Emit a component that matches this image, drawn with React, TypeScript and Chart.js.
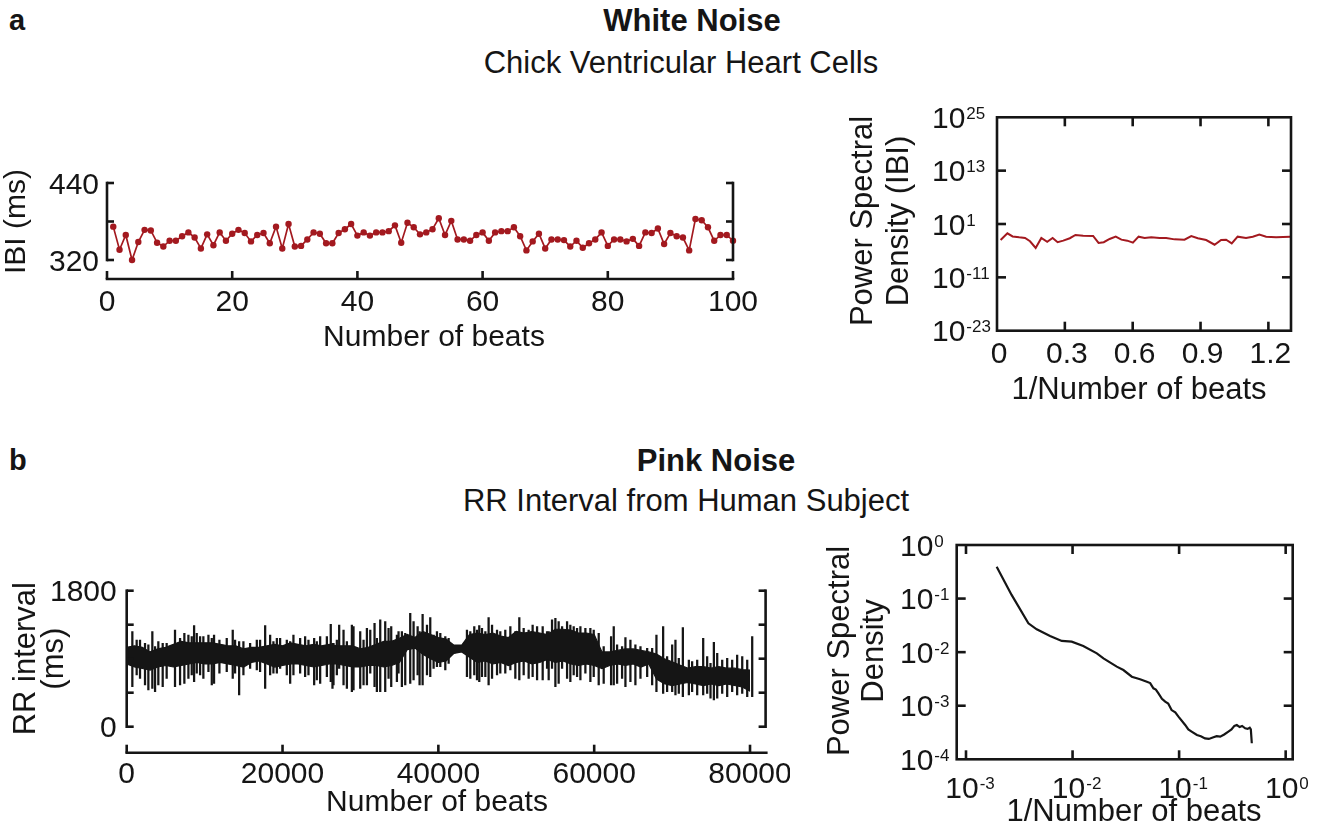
import React, { useEffect, useRef } from 'react';
import { Chart, registerables } from 'chart.js';

Chart.register(...registerables);

const FONT = '"Liberation Sans", Arial, Helvetica, sans-serif';
const INK = '#151515';
const RED = '#a3191f';

// ---------- Panel a (left): inter-beat intervals, beats 1..100 ----------
const ibiValues = [
  372, 336, 359, 320, 348, 367, 366, 347, 341, 350,
  350, 357, 363, 355, 338, 360, 343, 363, 350, 361,
  367, 362, 349, 359, 362, 346, 372, 338, 376, 341,
  342, 352, 363, 361, 346, 346, 362, 368, 376, 358,
  363, 358, 363, 363, 365, 374, 347, 378, 371, 360,
  363, 368, 385, 359, 381, 352, 352, 350, 359, 363,
  350, 363, 365, 365, 371, 357, 335, 349, 361, 338,
  352, 352, 351, 341, 350, 339, 346, 352, 363, 342,
  352, 352, 349, 353, 342, 363, 362, 369, 345, 362,
  357, 355, 335, 384, 382, 371, 350, 359, 359, 350,
];
const ibiYTicks = [320, 380, 440];
const ibiYLabelled = [320, 440];
const ibiXTicks = [0, 20, 40, 60, 80, 100];

// ---------- Panel a (right): PSD of IBI ----------
const whiteFreq = [
  0.016, 0.046, 0.069, 0.098, 0.124, 0.146, 0.171, 0.196, 0.222, 0.246,
  0.268, 0.293, 0.322, 0.347, 0.381, 0.425, 0.449, 0.472, 0.498, 0.525,
  0.55, 0.576, 0.601, 0.626, 0.653, 0.682, 0.719, 0.748, 0.785, 0.829,
  0.859, 0.888, 0.925, 0.962, 0.991, 1.013, 1.038, 1.064, 1.101, 1.131,
  1.16, 1.19, 1.234, 1.297,
];
const whitePsd = [
  2.5e-3, 7.9e-2, 1.6e-2, 1.0e-2, 7.1e-3, 1.3e-3, 4.0e-5, 7.1e-3, 1.0e-3, 7.1e-3,
  7.9e-4, 1.8e-3, 6.3e-3, 3.4e-2, 2.3e-2, 2.0e-2, 5.4e-4, 7.9e-4, 4.3e-3, 1.4e-2,
  3.0e-3, 1.8e-3, 6.3e-4, 1.4e-2, 7.1e-3, 1.0e-2, 7.1e-3, 7.1e-3, 3.5e-3, 3.0e-3,
  2.0e-2, 6.3e-3, 2.5e-3, 2.2e-4, 2.5e-3, 3.0e-3, 4.5e-4, 1.4e-2, 7.1e-3, 1.4e-2,
  4.0e-2, 1.4e-2, 1.0e-2, 1.4e-2,
];
const whiteXTicks = [0, 0.3, 0.6, 0.9, 1.2];
const whiteYExp = [25, 13, 1, -11, -23];

// ---------- Panel b (left): RR intervals — dense core per 1000 beats + individual excursions ----------
const RR_BIN = 1000;
const rrCoreHigh = [
  1050, 1070, 1050, 990, 1030, 1050, 1090, 1130, 1110, 1110,
  1110, 1110, 1090, 1070, 1070, 1030, 1050, 1050, 1070, 1090,
  1070, 1110, 1090, 1070, 1090, 1070, 1090, 1070, 1070, 1070,
  1030, 1050, 1090, 1130, 1130, 1170, 1220, 1180, 1260, 1220,
  1180, 1160, 1080, 1080, 1220, 1240, 1220, 1240, 1200, 1180,
  1260, 1240, 1260, 1240, 1220, 1290, 1290, 1280, 1240, 1240,
  1220, 990, 990, 1010, 1030, 1030, 1010, 990, 960, 900,
  860, 815, 775, 795, 795, 775, 795, 775, 775, 755,
  750,
];
const rrCoreLow = [
  830, 790, 770, 750, 790, 810, 790, 810, 830, 850,
  830, 830, 850, 830, 810, 790, 850, 870, 830, 790,
  810, 830, 830, 810, 790, 810, 830, 830, 810, 790,
  790, 810, 810, 790, 810, 850, 1020, 1040, 960, 900,
  850, 870, 970, 990, 920, 850, 870, 830, 850, 810,
  850, 870, 830, 850, 890, 850, 870, 830, 810, 830,
  810, 770, 810, 830, 810, 830, 790, 830, 630, 570,
  545, 565, 585, 565, 545, 565, 545, 565, 545, 525,
  470,
];
const rrSpikeBeat = [
  724, 1710, 3290, 4620, 6200, 7400, 8650, 9420, 11210, 11900,
  13610, 14430, 16700, 17770, 18410, 19270, 21400, 22900, 24060, 24830,
  26190, 26410, 27270, 28900, 29110, 29970, 30830, 31810, 32540, 33180,
  33950, 35320, 36390, 37340, 37980, 38960, 39820, 43670, 44610, 45250,
  46450, 48590, 50390, 52100, 53390, 55020, 55440, 56520, 57370, 58230,
  59510, 60580, 62170, 62510, 64010, 64650, 67990, 68850, 70430, 71380,
  72150, 73990, 75360, 75790, 77070, 78350, 80280,
  1280, 2350, 2780, 3640, 4060, 5130, 6850, 7920, 8350, 8990,
  9840, 10490, 10920, 12840, 13910, 14980, 15840, 17120, 18830, 19690,
  20550, 20980, 22260, 23330, 24400, 25690, 26970,
  26540, 27830, 28260, 30400, 31260, 32110, 33610, 34680, 34890, 35750,
  36820, 37590, 38540, 39390, 40250, 40890, 41320, 44100, 44960, 45600,
  46030, 46890, 47530, 47950, 49240, 49880, 50950, 51590, 52670, 53950,
  54160, 54590, 55880, 56940, 57800, 58870, 59940, 61220, 62940, 63580,
  65290, 65940, 66800, 67440, 69360, 70010, 70860, 72570, 73220, 74500,
  74930, 76430, 77710, 79000, 79640,
];
const rrSpikeLow = [
  530, 640, 508, 530, 530, 574, 596, 684, 574, 707,
  640, 420, 751, 508, 684, 707, 684, 662, 552, 574,
  596, 508, 773, 464, 486, 508, 552, 530, 464, 464,
  530, 530, 574, 684, 552, 662, 795, 662, 684, 596,
  552, 707, 618, 662, 618, 530, 574, 640, 684, 618,
  596, 552, 552, 552, 530, 596, 464, 442, 420, 398,
  420, 420, 354, 376, 398, 420, 398,
  684, 552, 486, 464, 552, 640, 552, 640, 684, 707,
  640, 729, 552, 729, 707, 684, 773, 729, 707, 773,
  684, 574, 707, 684, 618, 662, 684,
  552, 552, 508, 552, 707, 464, 640, 596, 707, 552,
  618, 552, 684, 773, 795, 751, 839, 640, 618, 662,
  662, 640, 684, 707, 751, 640, 684, 640, 618, 773,
  618, 773, 773, 596, 662, 707, 662, 574, 574, 640,
  552, 640, 662, 552, 464, 464, 442, 464, 420, 442,
  376, 442, 464, 442, 398,
];
const rrSpikeHigh = [
  1258, 1148, 1258, 1104, 1280, 1236, 1338, 1192, 1214, 1148,
  1280, 1126, 1148, 1338, 1214, 1170, 1214, 1192, 1170, 1192,
  1355, 1104, 1346, 1346, 1324, 1258, 1302, 1369, 1413, 1391,
  1324, 1258, 1501, 1324, 1488, 1444, 1258, 1280, 1324, 1338,
  1444, 1280, 1444, 1346, 1324, 1435, 1391, 1391, 1324, 1324,
  1302, 1236, 1192, 1324, 1179, 1148, 1214, 1324, 1148, 1311,
  883, 1170, 1117, 971, 905, 949, 1192,
  1148, 1104, 1082, 1060, 1126, 1104, 1170, 1214, 1192, 1236,
  1192, 1214, 1170, 1170, 1148, 1126, 1104, 1148, 1126, 1170,
  1148, 1126, 1170, 1148, 1126, 1192, 1148,
  1104, 1280, 1126, 1148, 1280, 1170, 1302, 1214, 1258, 1236,
  1391, 1258, 1346, 1214, 1236, 1192, 1170, 1258, 1280, 1302,
  1258, 1346, 1280, 1258, 1324, 1258, 1302, 1280, 1324, 1258,
  1258, 1413, 1324, 1346, 1302, 1302, 1280, 1060, 1082, 1060,
  1082, 1060, 1038, 1038, 927, 1082, 905, 861, 883, 927,
  839, 883, 883, 927, 883,
];
const rrYTicks = [0, 450, 900, 1350, 1800];
const rrYLabelled = [0, 1800];
const rrXTicks = [0, 20000, 40000, 60000, 80000];

// ---------- Panel b (right): PSD of RR ----------
const pinkFreq = [
  0.00194, 0.00268, 0.00385, 0.00461, 0.00615, 0.00792, 0.00982, 0.0126, 0.0169, 0.0195,
  0.026, 0.03, 0.036, 0.043, 0.0498, 0.0535, 0.0574, 0.0605, 0.064, 0.069,
  0.074, 0.079, 0.085, 0.092, 0.0986, 0.114, 0.122, 0.131, 0.147, 0.16,
  0.175, 0.19, 0.21, 0.225, 0.243, 0.265, 0.29, 0.31, 0.33, 0.348,
  0.37, 0.39, 0.417, 0.44, 0.46, 0.471, 0.481,
];
const pinkPsd = [
  0.394, 0.117, 0.0345, 0.0267, 0.02, 0.0162, 0.0157, 0.013, 0.0095, 0.00767,
  0.00536, 0.00464, 0.00348, 0.00311, 0.00281, 0.00265, 0.00211, 0.002, 0.0017, 0.00135,
  0.00119, 0.0011, 0.00083, 0.00075, 0.000625, 0.000437, 0.00036, 0.000328, 0.000284, 0.00027,
  0.000246, 0.00024, 0.000258, 0.00027, 0.000265, 0.00029, 0.000328, 0.00036, 0.00042, 0.000437,
  0.0004, 0.00042, 0.000379, 0.00037, 0.00039, 0.000363, 0.000199,
];
const pinkXExp = [-3, -2, -1, 0];
const pinkYExp = [0, -1, -2, -3, -4];

// ---------- drawing helpers ----------
const fontOf = (size: number, weight = 'normal') => `${weight} ${size}px ${FONT}`;

function seg(ctx: CanvasRenderingContext2D, x1: number, y1: number, x2: number, y2: number) {
  ctx.beginPath();
  ctx.moveTo(x1, y1);
  ctx.lineTo(x2, y2);
  ctx.stroke();
}

function label(ctx: CanvasRenderingContext2D, s: string, x: number, y: number, align: CanvasTextAlign, size = 30) {
  ctx.font = fontOf(size);
  ctx.fillStyle = INK;
  ctx.textAlign = align;
  ctx.textBaseline = 'alphabetic';
  ctx.fillText(s, x, y + size * 0.358);
}

function vlabel(ctx: CanvasRenderingContext2D, s: string, x: number, y: number, size = 31) {
  ctx.save();
  ctx.translate(x, y);
  ctx.rotate(-Math.PI / 2);
  ctx.font = fontOf(size);
  ctx.fillStyle = INK;
  ctx.textAlign = 'center';
  ctx.textBaseline = 'middle';
  ctx.fillText(s, 0, 0);
  ctx.restore();
}

function powLabel(ctx: CanvasRenderingContext2D, exp: number, x: number, y: number, anchor: 'left' | 'center') {
  const size = 30;
  const esize = 17;
  ctx.font = fontOf(size);
  ctx.fillStyle = INK;
  ctx.textAlign = 'left';
  ctx.textBaseline = 'alphabetic';
  const wb = ctx.measureText('10').width;
  const x0 = anchor === 'left' ? x : x - wb / 2;
  ctx.fillText('10', x0, y + size * 0.358);
  ctx.font = fontOf(esize);
  ctx.fillText(exp < 0 ? '-' + Math.abs(exp) : String(exp), x0 + wb + 1, y + 1.5);
}

const LW = 2.6;

// ---------- axis plugins ----------
const ibiAxes = {
  id: 'ibiAxes',
  afterDraw(chart: any) {
    const ctx: CanvasRenderingContext2D = chart.ctx;
    const x = chart.scales.x;
    const y = chart.scales.y;
    const xl = x.getPixelForValue(0);
    const xr = x.getPixelForValue(100);
    const yb = y.getPixelForValue(320);
    const yt = y.getPixelForValue(440);
    ctx.save();
    ctx.strokeStyle = INK;
    ctx.lineWidth = LW;
    seg(ctx, xl, yt - LW / 2, xl, yb + LW / 2);
    seg(ctx, xr, yt - LW / 2, xr, yb + LW / 2);
    ibiYTicks.forEach((v) => {
      const py = y.getPixelForValue(v);
      seg(ctx, xl, py, xl + 7, py);
      seg(ctx, xr, py, xr - 7, py);
    });
    const ya = yb + 19;
    seg(ctx, xl - LW / 2, ya, xr + LW / 2, ya);
    ibiXTicks.forEach((v) => {
      const px = x.getPixelForValue(v);
      seg(ctx, px, ya, px, ya - 8);
    });
    ibiYLabelled.forEach((v) => label(ctx, String(v), xl - 8, y.getPixelForValue(v), 'right'));
    ibiXTicks.forEach((v) => label(ctx, String(v), x.getPixelForValue(v), ya + 21, 'center'));
    label(ctx, 'Number of beats', (xl + xr) / 2 + 14, ya + 56, 'center', 30);
    vlabel(ctx, 'IBI (ms)', 17, (yb + yt) / 2, 30);
    ctx.restore();
  },
};

const whiteAxes = {
  id: 'whiteAxes',
  afterDraw(chart: any) {
    const ctx: CanvasRenderingContext2D = chart.ctx;
    const ca = chart.chartArea;
    const x = chart.scales.x;
    const y = chart.scales.y;
    ctx.save();
    ctx.strokeStyle = INK;
    ctx.lineWidth = LW;
    ctx.strokeRect(ca.left, ca.top, ca.right - ca.left, ca.bottom - ca.top);
    whiteXTicks.slice(1).forEach((v) => {
      const px = x.getPixelForValue(v);
      seg(ctx, px, ca.bottom, px, ca.bottom - 9);
      seg(ctx, px, ca.top, px, ca.top + 9);
    });
    whiteYExp.slice(1, -1).forEach((e) => {
      const py = y.getPixelForValue(Math.pow(10, e));
      seg(ctx, ca.left, py, ca.left + 9, py);
      seg(ctx, ca.right, py, ca.right - 9, py);
    });
    whiteYExp.forEach((e) => powLabel(ctx, e, 102, y.getPixelForValue(Math.pow(10, e)), 'left'));
    whiteXTicks.forEach((v) => label(ctx, String(v), x.getPixelForValue(v) + 2, ca.bottom + 22, 'center'));
    label(ctx, '1/Number of beats', 309, ca.bottom + 57, 'center', 31);
    vlabel(ctx, 'Power Spectral', 33, 131, 31);
    vlabel(ctx, 'Density (IBI)', 69, 131, 31);
    ctx.restore();
  },
};

const rrAxes = {
  id: 'rrAxes',
  afterDraw(chart: any) {
    const ctx: CanvasRenderingContext2D = chart.ctx;
    const ca = chart.chartArea;
    const x = chart.scales.x;
    const y = chart.scales.y;
    const xl = x.getPixelForValue(0);
    const xr = ca.right;
    const yb = y.getPixelForValue(0);
    const yt = y.getPixelForValue(1800);
    ctx.save();
    ctx.strokeStyle = INK;
    ctx.lineWidth = LW;
    seg(ctx, xl, yt - LW / 2, xl, yb + LW / 2);
    seg(ctx, xr, yt - LW / 2, xr, yb + LW / 2);
    rrYTicks.forEach((v) => {
      const py = y.getPixelForValue(v);
      seg(ctx, xl, py, xl + 7, py);
      seg(ctx, xr, py, xr - 7, py);
    });
    const ya = yb + 26;
    seg(ctx, xl - LW / 2, ya, xr + 2, ya);
    rrXTicks.forEach((v) => {
      const px = x.getPixelForValue(v);
      seg(ctx, px, ya, px, ya - 8);
    });
    rrYLabelled.forEach((v) => label(ctx, String(v), xl - 10, y.getPixelForValue(v), 'right'));
    rrXTicks.forEach((v) => label(ctx, String(v), x.getPixelForValue(v), ya + 20, 'center'));
    label(ctx, 'Number of beats', 437, ya + 48, 'center', 30);
    vlabel(ctx, 'RR interval', 26, (yb + yt) / 2, 31);
    vlabel(ctx, '(ms)', 54, (yb + yt) / 2, 31);
    ctx.restore();
  },
};

const pinkAxes = {
  id: 'pinkAxes',
  afterDraw(chart: any) {
    const ctx: CanvasRenderingContext2D = chart.ctx;
    const ca = chart.chartArea;
    const x = chart.scales.x;
    const y = chart.scales.y;
    ctx.save();
    ctx.strokeStyle = INK;
    ctx.lineWidth = LW;
    ctx.strokeRect(ca.left, ca.top, ca.right - ca.left, ca.bottom - ca.top);
    pinkXExp.forEach((e) => {
      const px = x.getPixelForValue(Math.pow(10, e));
      seg(ctx, px, ca.bottom, px, ca.bottom - 9);
      seg(ctx, px, ca.top, px, ca.top + 9);
    });
    pinkYExp.slice(1, -1).forEach((e) => {
      const py = y.getPixelForValue(Math.pow(10, e));
      seg(ctx, ca.left, py, ca.left + 9, py);
      seg(ctx, ca.right, py, ca.right - 9, py);
    });
    pinkYExp.forEach((e) => powLabel(ctx, e, 100, y.getPixelForValue(Math.pow(10, e)), 'left'));
    pinkXExp.forEach((e) => powLabel(ctx, e, x.getPixelForValue(Math.pow(10, e)) - 4, ca.bottom + 28, 'center'));
    label(ctx, '1/Number of beats', 334, ca.bottom + 51, 'center', 31);
    vlabel(ctx, 'Power Spectral', 40, 131, 31);
    vlabel(ctx, 'Density', 74, 131, 31);
    ctx.restore();
  },
};

// ---------- chart configs ----------
const baseOptions = (padding: any, scales: any) => ({
  animation: false,
  responsive: false,
  events: [],
  layout: { padding },
  plugins: { legend: { display: false }, tooltip: { enabled: false } },
  scales,
});

function ibiConfig(): any {
  return {
    type: 'line',
    data: {
      datasets: [
        {
          data: ibiValues.map((v, i) => ({ x: i + 1, y: v })),
          borderColor: RED,
          backgroundColor: RED,
          borderWidth: 1.7,
          pointRadius: 3.2,
          pointBorderWidth: 0,
          pointBackgroundColor: RED,
          tension: 0,
          clip: false,
        },
      ],
    },
    options: baseOptions(
      { left: 107, right: 37, top: 23, bottom: 100 },
      {
        x: { type: 'linear', min: 0, max: 100, display: false, bounds: 'data' },
        y: { type: 'linear', min: 320, max: 440, display: false, bounds: 'data' },
      }
    ),
    plugins: [ibiAxes],
  };
}

function whiteConfig(): any {
  return {
    type: 'line',
    data: {
      datasets: [
        {
          data: whiteFreq.map((f, i) => ({ x: f, y: whitePsd[i] })),
          borderColor: RED,
          borderWidth: 2,
          pointRadius: 0,
          tension: 0,
          clip: false,
        },
      ],
    },
    options: baseOptions(
      { left: 167, right: 19, top: 27.3, bottom: 79.3 },
      {
        x: { type: 'linear', min: 0, max: 1.3, display: false, bounds: 'data' },
        y: { type: 'logarithmic', min: 1e-23, max: 1e25, display: false, bounds: 'data' },
      }
    ),
    plugins: [whiteAxes],
  };
}

function rrConfig(): any {
  return {
    type: 'line',
    data: {
      datasets: [
        {
          type: 'line',
          data: rrCoreHigh.map((v, k) => ({ x: k * RR_BIN, y: v })),
          borderColor: INK,
          backgroundColor: INK,
          borderWidth: 1.2,
          pointRadius: 0,
          fill: '+1',
          tension: 0,
        },
        {
          type: 'line',
          data: rrCoreLow.map((v, k) => ({ x: k * RR_BIN, y: v })),
          borderColor: INK,
          borderWidth: 1.2,
          pointRadius: 0,
          fill: false,
          tension: 0,
        },
        {
          type: 'bar',
          data: rrSpikeBeat.map((b, i) => ({ x: b, y: [rrSpikeLow[i], rrSpikeHigh[i]] })),
          backgroundColor: INK,
          borderWidth: 0,
          barThickness: 1.6,
          grouped: false,
        },
      ],
    },
    options: baseOptions(
      { left: 126.7, right: 24.4, top: 20.7, bottom: 100.3 },
      {
        x: { type: 'linear', min: 0, max: 82000, display: false, bounds: 'data', offset: false },
        y: { type: 'linear', min: 0, max: 1800, display: false, bounds: 'data' },
      }
    ),
    plugins: [rrAxes],
  };
}

function pinkConfig(): any {
  return {
    type: 'line',
    data: {
      datasets: [
        {
          data: pinkFreq.map((f, i) => ({ x: f, y: pinkPsd[i] })),
          borderColor: INK,
          borderWidth: 2.2,
          pointRadius: 0,
          tension: 0,
        },
      ],
    },
    options: baseOptions(
      { left: 156.7, right: 26.3, top: 25, bottom: 67.7 },
      {
        x: { type: 'logarithmic', min: 8.18e-4, max: 1.164, display: false, bounds: 'data' },
        y: { type: 'logarithmic', min: 1e-4, max: 1, display: false, bounds: 'data' },
      }
    ),
    plugins: [pinkAxes],
  };
}

// ---------- components ----------
function ChartBox(props: { left: number; top: number; width: number; height: number; make: () => any }) {
  const ref = useRef<HTMLCanvasElement>(null);
  useEffect(() => {
    const chart = new Chart(ref.current as HTMLCanvasElement, props.make());
    return () => chart.destroy();
  }, []);
  return (
    <canvas
      ref={ref}
      width={props.width}
      height={props.height}
      style={{ position: 'absolute', left: props.left, top: props.top, width: props.width, height: props.height }}
    />
  );
}

function Txt(props: { x: number; y: number; size: number; bold?: boolean; center?: boolean; children: string }) {
  return (
    <div
      style={{
        position: 'absolute',
        left: props.x,
        top: props.y - props.size / 2,
        fontSize: props.size,
        lineHeight: `${props.size}px`,
        fontWeight: props.bold ? 'bold' : 'normal',
        whiteSpace: 'nowrap',
        transform: props.center ? 'translateX(-50%)' : undefined,
      }}
    >
      {props.children}
    </div>
  );
}

export default function App() {
  return (
    <div
      style={{
        position: 'fixed',
        left: 0,
        top: 0,
        width: 1319,
        height: 827,
        background: '#ffffff',
        fontFamily: FONT,
        color: INK,
        overflow: 'hidden',
      }}
    >
      <Txt x={9} y={20} size={29} bold>a</Txt>
      <Txt x={692} y={20} size={31} bold center>White Noise</Txt>
      <Txt x={681} y={62} size={31} center>Chick Ventricular Heart Cells</Txt>
      <Txt x={9} y={460} size={29} bold>b</Txt>
      <Txt x={716} y={460} size={31} bold center>Pink Noise</Txt>
      <Txt x={686} y={500} size={31} center>RR Interval from Human Subject</Txt>

      <ChartBox left={0} top={160} width={770} height={200} make={ibiConfig} />
      <ChartBox left={830} top={90} width={480} height={320} make={whiteConfig} />
      <ChartBox left={0} top={570} width={790} height={257} make={rrConfig} />
      <ChartBox left={800} top={520} width={519} height={307} make={pinkConfig} />
    </div>
  );
}
